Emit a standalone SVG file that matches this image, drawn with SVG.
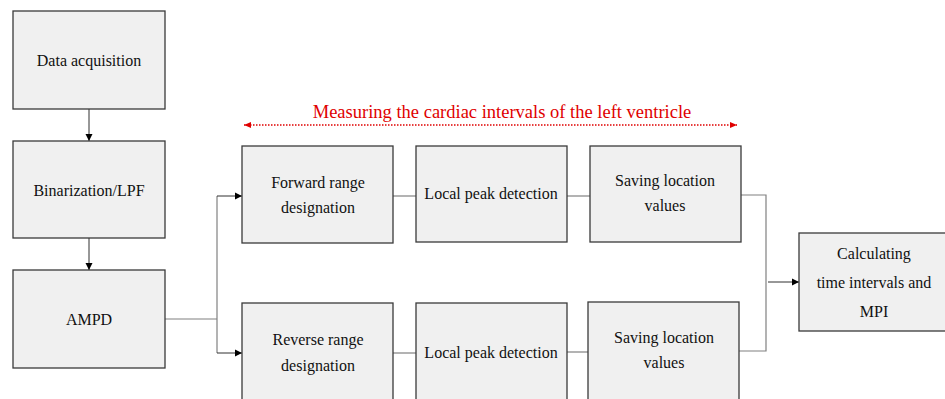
<svg xmlns="http://www.w3.org/2000/svg" width="945" height="399" viewBox="0 0 945 399">
<style>
.box{fill:#f0f0f0;stroke:#3a3a3a;stroke-width:1.3}
.t{font-size:16px;fill:#111;text-anchor:middle}
.c{fill:none;stroke:#808080;stroke-width:1.2}
.ck{fill:none;stroke:#303030;stroke-width:1}
</style>
<defs>
<marker id="ah" markerWidth="8" markerHeight="8" refX="7" refY="4" orient="auto" markerUnits="userSpaceOnUse">
<path d="M0,0.5 L7,4 L0,7.5 Z" fill="#000"/>
</marker>
<marker id="rh" markerWidth="8" markerHeight="8" refX="7" refY="4" orient="auto-start-reverse" markerUnits="userSpaceOnUse">
<path d="M0,1 L7,4 L0,7 Z" fill="#e00000"/>
</marker>
</defs>
<g id="connectors">
<path class="ck" d="M89,109 V141" marker-end="url(#ah)"/>
<path class="ck" d="M89,238 V270" marker-end="url(#ah)"/>
<path class="c" d="M165,319 H217"/>
<path class="c" d="M217,196 V353"/>
<path class="ck" d="M217,196 H242" marker-end="url(#ah)"/>
<path class="ck" d="M217,353 H242" marker-end="url(#ah)"/>
<path class="c" d="M393,196 H416"/>
<path class="c" d="M567,196 H590"/>
<path class="c" d="M393,353 H416"/>
<path class="c" d="M567,352 H588"/>
<path class="c" d="M741,195 H766 V351 H739"/>
<path class="ck" d="M768,282 H799" marker-end="url(#ah)"/>
<path d="M244,125 H737" stroke="#e00000" stroke-width="1.3" stroke-dasharray="1.5,1.5" fill="none" marker-start="url(#rh)" marker-end="url(#rh)"/>
</g>
<g font-family="Liberation Serif, Times New Roman, serif">
<text x="502" y="118" font-size="18.5" fill="#e00000" text-anchor="middle">Measuring the cardiac intervals of the left ventricle</text>
<g id="data-acquisition"><rect class="box" x="13" y="11" width="152" height="98"/><text class="t" x="89" y="66">Data acquisition</text></g>
<g id="binarization"><rect class="box" x="13" y="141" width="152" height="97"/><text class="t" x="89" y="196">Binarization/LPF</text></g>
<g id="ampd"><rect class="box" x="13" y="270" width="152" height="98"/><text class="t" x="89" y="325">AMPD</text></g>
<g id="forward"><rect class="box" x="242" y="146" width="151" height="97"/><text class="t" x="318" y="188">Forward range</text><text class="t" x="318" y="213">designation</text></g>
<g id="local-peak-1"><rect class="box" x="416" y="146" width="151" height="96"/><text class="t" x="491" y="199">Local peak detection</text></g>
<g id="saving-1"><rect class="box" x="590" y="146" width="151" height="96"/><text class="t" x="665" y="186">Saving location</text><text class="t" x="665" y="211">values</text></g>
<g id="reverse"><rect class="box" x="242" y="303" width="151" height="100"/><text class="t" x="318" y="345">Reverse range</text><text class="t" x="318" y="371">designation</text></g>
<g id="local-peak-2"><rect class="box" x="416" y="303" width="151" height="100"/><text class="t" x="491" y="358">Local peak detection</text></g>
<g id="saving-2"><rect class="box" x="588" y="302" width="151" height="100"/><text class="t" x="664" y="343">Saving location</text><text class="t" x="664" y="368">values</text></g>
<g id="calculating"><rect class="box" x="799" y="233" width="150" height="98"/><text class="t" x="874" y="259">Calculating</text><text class="t" x="874" y="288">time intervals and</text><text class="t" x="874" y="317">MPI</text></g>
</g>
</svg>
